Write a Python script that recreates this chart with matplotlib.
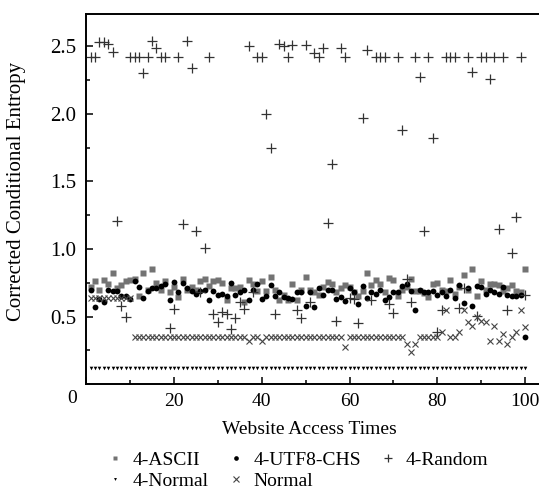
import numpy as np
import matplotlib
matplotlib.use('Agg')
import matplotlib.pyplot as plt
from matplotlib.ticker import MultipleLocator

plt.rcParams['font.family'] = ['Liberation Serif', 'DejaVu Serif']

# website access index 1..100
access_times = list(range(1, 101))

ascii_4 = [0.72, 0.76, 0.70, 0.77, 0.74, 0.82, 0.71, 0.735, 0.765, 0.77,
           0.78, 0.65, 0.82, 0.70, 0.85, 0.75, 0.70, 0.76, 0.685, 0.72,
           0.645, 0.78, 0.70, 0.72, 0.70, 0.765, 0.78, 0.73, 0.76, 0.77,
           0.75, 0.625, 0.71, 0.715, 0.72, 0.61, 0.77, 0.74, 0.69, 0.765,
           0.69, 0.79, 0.70, 0.62, 0.66, 0.625, 0.74, 0.625, 0.70, 0.79,
           0.70, 0.685, 0.66, 0.72, 0.755, 0.745, 0.685, 0.715, 0.735, 0.72,
           0.685, 0.65, 0.69, 0.825, 0.735, 0.77, 0.74, 0.685, 0.785, 0.77,
           0.65, 0.70, 0.72, 0.78, 0.69, 0.69, 0.675, 0.645, 0.74, 0.75,
           0.70, 0.69, 0.77, 0.67, 0.72, 0.81, 0.70, 0.85, 0.655, 0.76,
           0.70, 0.74, 0.74, 0.735, 0.69, 0.71, 0.735, 0.69, 0.68, 0.85]

utf8_chs_4 = [0.70, 0.57, 0.63, 0.61, 0.70, 0.69, 0.69, 0.65, 0.65, 0.63,
              0.76, 0.72, 0.635, 0.69, 0.71, 0.71, 0.725, 0.745, 0.625, 0.755,
              0.68, 0.75, 0.71, 0.69, 0.67, 0.69, 0.70, 0.625, 0.69, 0.66,
              0.67, 0.655, 0.75, 0.66, 0.685, 0.70, 0.625, 0.70, 0.745, 0.63,
              0.65, 0.735, 0.655, 0.68, 0.645, 0.635, 0.63, 0.68, 0.685, 0.58,
              0.685, 0.57, 0.71, 0.66, 0.70, 0.695, 0.63, 0.645, 0.615, 0.71,
              0.685, 0.595, 0.725, 0.635, 0.685, 0.67, 0.70, 0.62, 0.645, 0.685,
              0.68, 0.73, 0.74, 0.69, 0.55, 0.70, 0.68, 0.68, 0.69, 0.66,
              0.68, 0.655, 0.70, 0.635, 0.735, 0.60, 0.71, 0.58, 0.725, 0.72,
              0.67, 0.70, 0.685, 0.67, 0.72, 0.66, 0.655, 0.65, 0.66, 0.35]

random_4 = [2.42, 2.42, 2.53, 2.53, 2.52, 2.46, 1.21, 0.58, 0.50, 2.42,
            2.42, 2.42, 2.30, 2.42, 2.54, 2.49, 2.42, 2.42, 0.415, 0.56,
            2.42, 1.185, 2.54, 2.34, 1.135, 0.685, 1.01, 2.42, 0.52, 0.46,
            0.537, 0.52, 0.41, 0.49, 0.61, 0.56, 2.50, 0.68, 2.42, 2.42,
            2.00, 1.75, 0.52, 2.52, 2.50, 2.42, 2.51, 0.55, 0.49, 2.51,
            0.61, 2.45, 2.42, 2.49, 1.19, 1.63, 0.47, 2.49, 2.42, 0.64,
            0.63, 0.456, 1.97, 2.47, 0.62, 2.42, 2.42, 2.42, 0.59, 0.53,
            2.42, 1.88, 0.775, 0.61, 2.42, 2.27, 1.135, 2.42, 1.82, 0.39,
            0.55, 2.42, 2.42, 2.42, 0.565, 0.71, 2.42, 2.31, 0.505, 2.42,
            2.42, 2.26, 2.42, 1.15, 2.42, 0.55, 0.97, 1.24, 2.42, 0.66]

normal_4 = [0.12] * 100

normal = ([0.635] * 10 + [0.35] * 26 + [0.32, 0.35, 0.35, 0.32] + [0.35] * 18
          + [0.275] + [0.35] * 13 + [0.30, 0.24, 0.30] + [0.35] * 5
          + [0.39, 0.55, 0.35, 0.35, 0.39, 0.55, 0.46, 0.43, 0.50, 0.47,
             0.46, 0.32, 0.43, 0.32, 0.37, 0.30, 0.35, 0.39, 0.55, 0.42])

fig = plt.figure(figsize=(5.39, 4.92), dpi=100)
ax = fig.add_axes([0.16, 0.219, 0.845, 0.753])

h1, = ax.plot(access_times, ascii_4, 's', color='#737373', ms=4.0, mec='none', label='4-ASCII')
h2, = ax.plot(access_times, utf8_chs_4, 'o', color='black', ms=4.2, mec='none', label='4-UTF8-CHS')
h3, = ax.plot(access_times, random_4, '+', color='#333333', ms=7, mew=0.9, label='4-Random')
h4, = ax.plot(access_times, normal_4, 'v', color='black', ms=2.6, mec='none', label='4-Normal')
h5, = ax.plot(access_times, normal, 'x', color='#444444', ms=4.6, mew=0.8, label='Normal')

ax.set_xlim(0, 103.8)
ax.set_ylim(0, 2.74)
ax.xaxis.set_minor_locator(MultipleLocator(10))
ax.yaxis.set_minor_locator(MultipleLocator(0.25))
ax.set_yticks([0.5, 1.0, 1.5, 2.0, 2.5])
ax.set_yticklabels(['0.5', '1.0', '1.5', '2.0', '2.5'])
ax.set_xticks([0, 20, 40, 60, 80, 100])
ax.set_xticklabels(['', '20', '40', '60', '80', '100'])
ax.annotate('0', xy=(0, 0), xycoords=('data', 'axes fraction'), xytext=(-14, -6),
            textcoords='offset pixels', ha='center', va='top', fontsize=14)

ax.tick_params(which='both', direction='in', width=1.1)
ax.tick_params(which='major', length=5)
ax.tick_params(which='minor', length=3)
ax.tick_params(axis='x', pad=6, labelsize=14)
ax.tick_params(axis='y', pad=7, labelsize=15)
for s in ['left', 'bottom', 'top']:
    ax.spines[s].set_linewidth(1.4)
ax.spines['right'].set_visible(False)

ax.set_xlabel('Website Access Times', fontsize=14)
ax.xaxis.set_label_coords(0.49, -0.1)
ax.set_ylabel('Corrected Conditional Entropy', fontsize=15)
ax.yaxis.set_label_coords(-0.132, 0.52)

# row-major order for the legend (ncol=3 fills column by column)
fig.legend([h1, h4, h2, h5, h3], ['4-ASCII', '4-Normal', '4-UTF8-CHS', 'Normal', '4-Random'],
           loc='upper center', bbox_to_anchor=(0.553, 0.102), ncol=3, frameon=False,
           fontsize=14, markerscale=0.8, handlelength=0.8, handletextpad=0.5,
           columnspacing=1.0, labelspacing=0.15, borderpad=0)

fig.savefig('out.png', dpi=100)
